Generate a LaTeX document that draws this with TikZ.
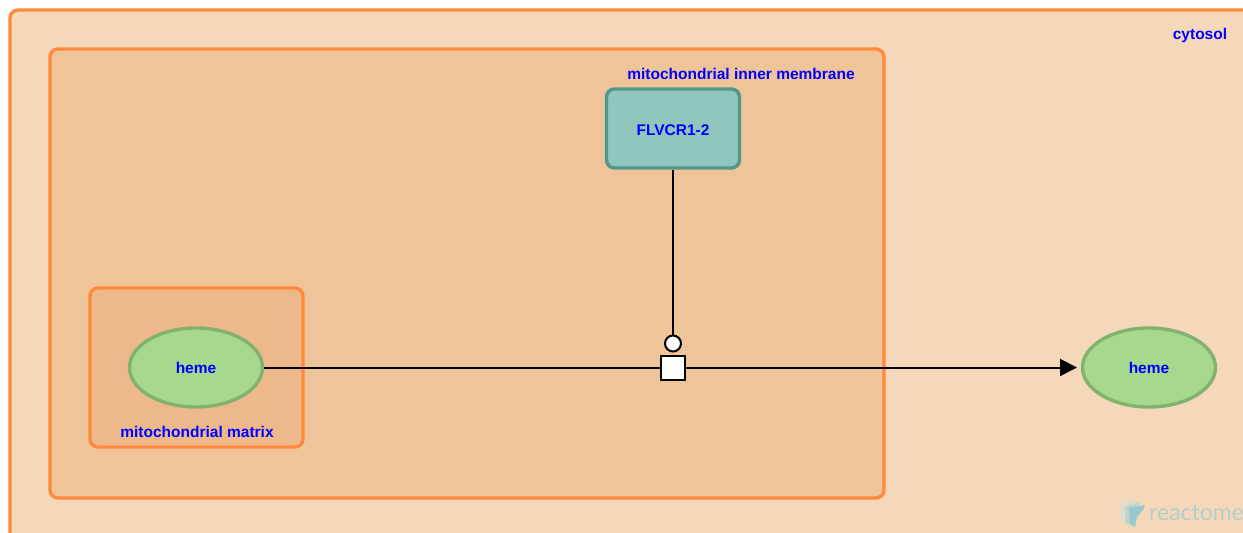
\documentclass[tikz,border=0pt]{standalone}
\usepackage{fontspec}
\setmainfont{Liberation Sans}
\newfontfamily\logofont{Lato}
\usepackage{xcolor}
\usetikzlibrary{shapes.geometric, arrows.meta, positioning, calc}
\definecolor{comporange}{HTML}{FF8A3C}
\definecolor{cytofill}{HTML}{F5D7BA}
\definecolor{innerfill}{HTML}{F0C499}
\definecolor{matrixfill}{HTML}{EEB98A}
\definecolor{chemfill}{HTML}{A6D98D}
\definecolor{chemline}{HTML}{82B36E}
\definecolor{protfill}{HTML}{90C6BB}
\definecolor{protline}{HTML}{50988A}
\definecolor{logoblue}{HTML}{B4D0CB}
\definecolor{logopale}{HTML}{E2DCCB}
\definecolor{logomid}{HTML}{BCD5D0}
\definecolor{logofront}{HTML}{98C9CF}
\begin{document}
\begin{tikzpicture}[
    x=1pt, y=-1pt,
    comp/.style={draw=comporange, line width=3.4pt, rounded corners=8pt, inner sep=0pt},
    lab/.style={font=\fontsize{15.5}{17}\selectfont\bfseries, text=blue, inner sep=0pt},
    chem/.style={ellipse, draw=chemline, fill=chemfill, line width=3.4pt, minimum width=133pt,
                 minimum height=79pt, inner sep=0pt, lab},
    prot/.style={draw=protline, fill=protfill, line width=3.4pt, rounded corners=8pt,
                 minimum width=133pt, minimum height=79pt, inner sep=0pt, lab,
                 text height=13.5pt, text depth=0pt},
    ar/.style={-{Triangle[length=17pt,width=17pt]}, line width=2pt},
    ln/.style={line width=2pt},
]
\clip (0,0) rectangle (1243,533);
\fill[white] (0,0) rectangle (1243,533);
% compartments
\node[comp, fill=cytofill, minimum width=1300pt, minimum height=600pt] (cytosol) at (660,310) {};
\node[comp, fill=innerfill, minimum width=834pt, minimum height=449pt] (inner) at (467,273.5) {};
\node[comp, fill=matrixfill, minimum width=213pt, minimum height=159pt] (matrix) at (196.5,367.5) {};
\node[lab] (cytosollab) at (1200,35) {cytosol};
\node[lab] (innerlab) at (741,74) {mitochondrial inner membrane};
\node[lab] (matrixlab) at (197,432) {mitochondrial matrix};
% entities
\node[chem] (hemea) at (196,367.5) {heme};
\node[chem] (hemeb) at (1149,367.5) {heme};
\node[prot] (flvcr) at (673,128.5) {FLVCR1-2};
% reaction
\node[draw=black, fill=white, line width=2pt, minimum size=24pt, inner sep=0pt] (react) at (673,367.5) {};
\node[circle, draw=black, fill=white, line width=2pt, minimum size=16pt, inner sep=0pt] (cat) at (673,343.5) {};
\draw[ln] (hemea) -- (react);
\coordinate (hemetip) at (1077,367.5);
\draw[ar] (react) -- (hemetip);
\draw[ln] (flvcr) -- (cat);
% watermark
\fill[logopale] (1120,505) -- (1133,498) -- (1136,500) -- (1136,516) -- (1126,519) -- (1125,523) -- (1120,520) -- cycle;
\fill[logomid] (1125,507) -- (1139,502) -- (1140,514) -- (1132,518) -- (1131,526) -- (1125,522) -- cycle;
\fill[logofront] (1129,508) -- (1145,505) -- (1143,510) -- (1137,517) -- (1135,527) -- (1130,524) -- cycle;
\node[font=\logofont\fontsize{23}{25}\selectfont, text=logoblue, inner sep=0pt, anchor=west] (logo) at (1149,513) {reactome};
\end{tikzpicture}
\end{document}
